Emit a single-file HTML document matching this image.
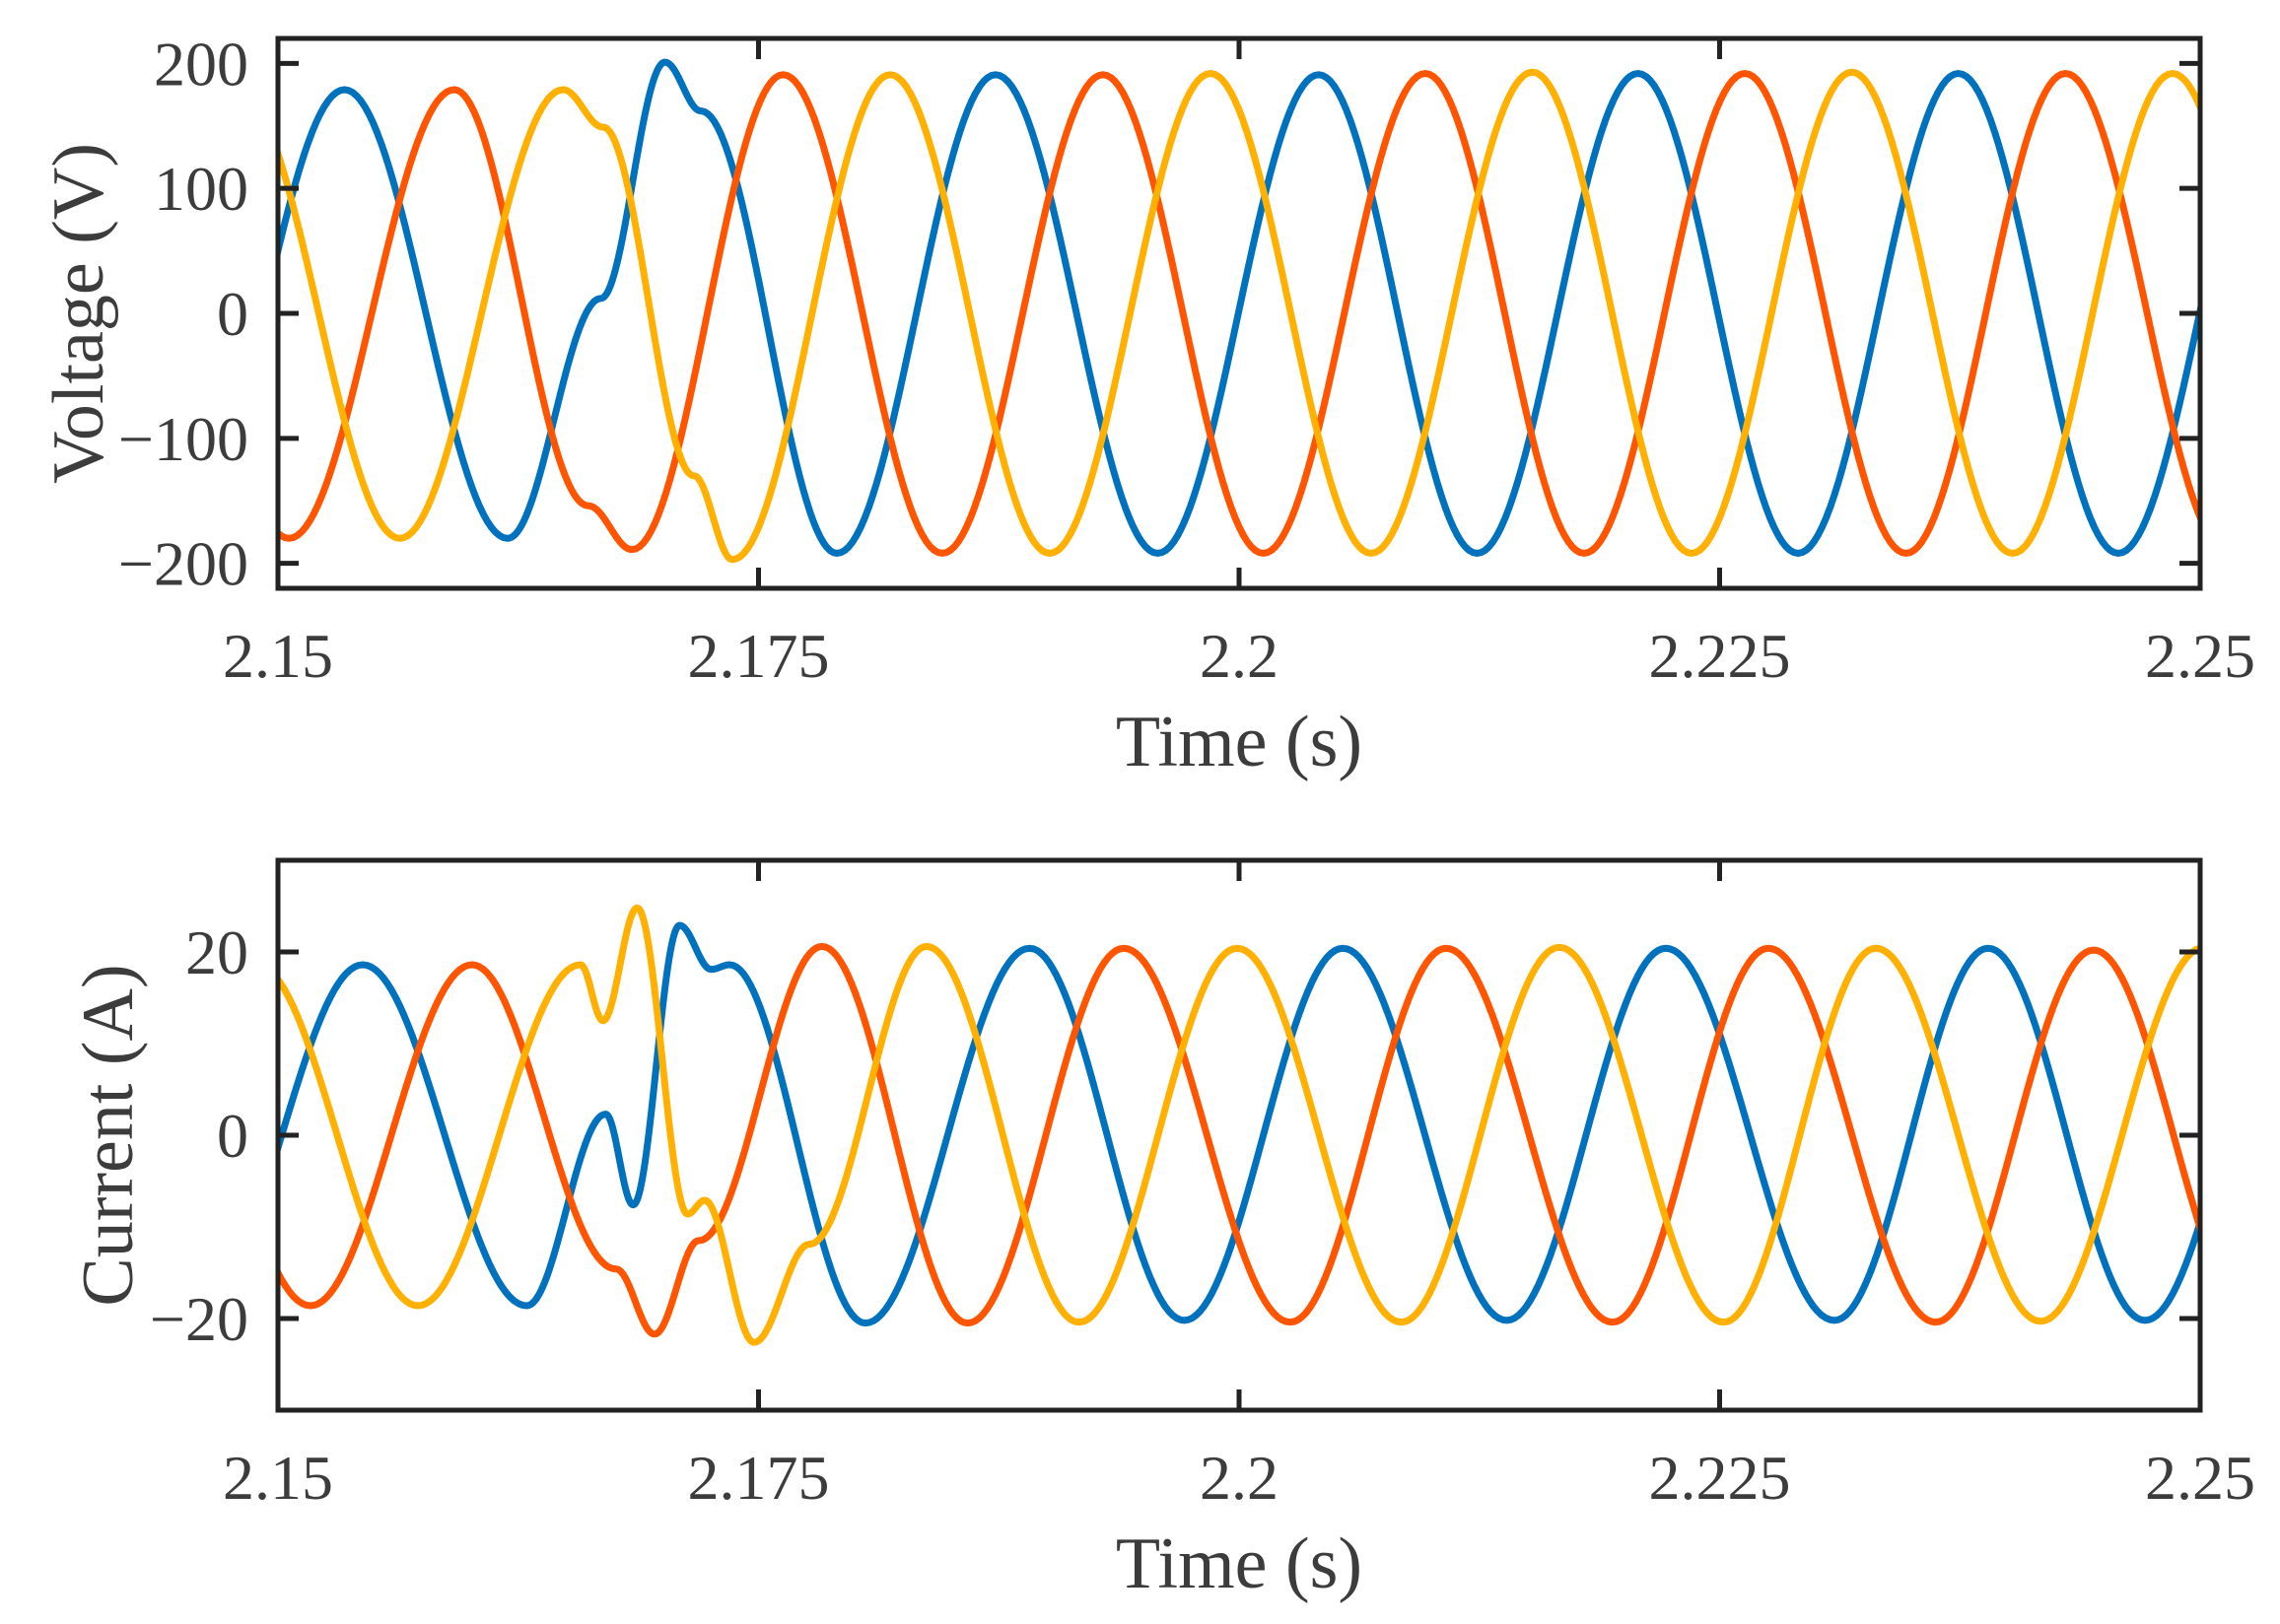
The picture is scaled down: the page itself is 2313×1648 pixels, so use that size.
<!DOCTYPE html>
<html><head><meta charset="utf-8"><style>
html,body{margin:0;padding:0;background:#fff;}
svg{display:block;}
text{font-family:"Liberation Serif",serif;fill:#3c3c3c;}
</style></head><body>
<svg id="chart" width="2313" height="1648" viewBox="0 0 2313 1648" xmlns="http://www.w3.org/2000/svg"></svg>
<script>
// ---- data (knots: extrema / shoulders) ----
const xTicks = [2.15, 2.175, 2.2, 2.225, 2.25];
const xTickLabels = ["2.15", "2.175", "2.2", "2.225", "2.25"];
const vTicks = [-200, -100, 0, 100, 200];
const vTickLabels = ["\u2212200", "\u2212100", "0", "100", "200"];
const iTicks = [-20, 0, 20];
const iTickLabels = ["\u221220", "0", "20"];

const vBlueT = [2.1450,2.15346,2.16195,2.1668,2.17013,2.1720,2.17908,2.18733,2.19577,2.20414,2.21238,2.22075,2.22908,2.23742,2.24574,2.2542];
const vBlueV = [-180,179,-180,12,201,162,-192,191,-192,191,-192,192,-192,192,-192,192];
const vOrangeT = [2.1421,2.15057,2.15917,2.16615,2.16842,2.17628,2.18456,2.19292,2.20126,2.20969,2.21795,2.22631,2.2347,2.24299,2.2515];
const vOrangeV = [180,-180,179,-154,-189,191,-192,191,-192,192,-192,192,-192,192,-192];
const vYellowT = [2.1479,2.15634,2.16483,2.16692,2.17164,2.17364,2.18185,2.19015,2.19851,2.20687,2.21526,2.22354,2.23188,2.24025,2.24856,2.2570];
const vYellowV = [180,-180,179,149,-130,-197,191,-192,192,-192,193,-192,193,-192,192,-192];

const iBlueT = [2.14598,2.15441,2.16294,2.16705,2.16848,2.17089,2.17254,2.1735,2.18056,2.1891,2.19715,2.2054,2.21392,2.2222,2.23097,2.23897,2.24713,2.2555];
const iBlueV = [-18.6,18.6,-18.6,2.3,-7.6,22.9,18.1,18.6,-20.5,20.4,-20.2,20.4,-20.2,20.4,-20.2,20.4,-20.2,20.4];
const iOrangeT = [2.14327,2.15169,2.1601,2.16759,2.16959,2.17189,2.1783,2.18588,2.194,2.20266,2.21077,2.21943,2.22754,2.23624,2.24446,2.2528];
const iOrangeV = [18.6,-18.6,18.6,-14.6,-21.7,-11.5,20.6,-20.5,20.4,-20.4,20.4,-20.4,20.4,-20.4,20.2,-20.4];
const iYellowT = [2.14888,2.15728,2.16574,2.16691,2.16869,2.17131,2.1722,2.17477,2.17764,2.18374,2.19167,2.1999,2.20844,2.21666,2.22521,2.23313,2.2417,2.2502];
const iYellowV = [18.6,-18.6,18.6,12.5,24.8,-8.6,-7.1,-22.6,-11.9,20.6,-20.4,20.4,-20.4,20.5,-20.4,20.4,-20.3,20.5];

const NS = "http://www.w3.org/2000/svg";
const svg = document.getElementById("chart");
function mk(tag, attrs, parent) {
  const e = document.createElementNS(NS, tag);
  for (const k in attrs) e.setAttribute(k, attrs[k]);
  (parent || svg).appendChild(e);
  return e;
}
const L = 282, R = 2232, X0 = 2.15, X1 = 2.25;
function xs(t) { return L + (t - X0) / (X1 - X0) * (R - L); }

function cosCurve(T, V, ys) {
  let d = "";
  for (let k = 0; k < T.length - 1; k++) {
    const n = 40;
    for (let j = (k === 0 ? 0 : 1); j <= n; j++) {
      const f = j / n;
      const t = T[k] + (T[k + 1] - T[k]) * f;
      const v = V[k] + (V[k + 1] - V[k]) * (1 - Math.cos(Math.PI * f)) / 2;
      d += (d ? "L" : "M") + xs(t).toFixed(2) + "," + ys(v).toFixed(2);
    }
  }
  return d;
}

function panel(cfg) {
  const { top, bot, ymax, ticks, labels, ylabel, ylabX, series, name } = cfg;
  const ys = v => (top + bot) / 2 - v / ymax * (bot - top) / 2;
  const g = mk("g", {});
  
  
  const cid = name + "-clip";
  const cp = mk("clipPath", { id: cid }, g);
  mk("rect", { x: L, y: top, width: R - L, height: bot - top }, cp);
  const sg = mk("g", { "clip-path": "url(#" + cid + ")" }, g);
  series.forEach(s => {
    const p = mk("path", { d: cosCurve(s.T, s.V, ys), fill: "none", stroke: s.c, "stroke-width": 7, "stroke-linejoin": "round" }, sg);
    
    
  });
  const box = mk("rect", { x: L, y: top, width: R - L, height: bot - top, fill: "none", stroke: "#222", "stroke-width": 5 }, g);
  
  
  ticks.forEach((v, i) => {
    const y = ys(v);
    mk("line", { x1: L, x2: L + 21, y1: y, y2: y, stroke: "#222", "stroke-width": 5 }, g);
    mk("line", { x1: R, x2: R - 21, y1: y, y2: y, stroke: "#222", "stroke-width": 5 }, g);
    const tx = mk("text", { x: L - 30, y: y + 22, "font-size": 64, "text-anchor": "end" }, g);
    tx.textContent = labels[i];
    
    
  });
  xTicks.forEach((t, i) => {
    const x = xs(t);
    mk("line", { x1: x, x2: x, y1: top, y2: top + 21, stroke: "#222", "stroke-width": 5 }, g);
    mk("line", { x1: x, x2: x, y1: bot, y2: bot - 21, stroke: "#222", "stroke-width": 5 }, g);
    const tx = mk("text", { x: x, y: bot + 90, "font-size": 64, "text-anchor": "middle" }, g);
    tx.textContent = xTickLabels[i];
    
    
  });
  const xl = mk("text", { x: (L + R) / 2, y: bot + 180, "font-size": 74, "text-anchor": "middle" }, g);
  xl.textContent = "Time (s)";
  
  
  const yc = (top + bot) / 2;
  const yl = mk("text", { x: ylabX, y: yc, "font-size": 74, "text-anchor": "middle", transform: "rotate(-90 " + ylabX + " " + yc + ")" }, g);
  yl.textContent = ylabel;
  
  
}

panel({ name: "voltage-panel", top: 39, bot: 597, ymax: 220, ticks: vTicks, labels: vTickLabels, ylabel: "Voltage (V)", ylabX: 104,
  series: [
    { T: vBlueT, V: vBlueV, c: "#0072BD", n: "voltage-phase-a" },
    { T: vOrangeT, V: vOrangeV, c: "#FF5500", n: "voltage-phase-b" },
    { T: vYellowT, V: vYellowV, c: "#FFB000", n: "voltage-phase-c" }
  ] });
panel({ name: "current-panel", top: 873, bot: 1431, ymax: 30, ticks: iTicks, labels: iTickLabels, ylabel: "Current (A)", ylabX: 134,
  series: [
    { T: iBlueT, V: iBlueV, c: "#0072BD", n: "current-phase-a" },
    { T: iOrangeT, V: iOrangeV, c: "#FF5500", n: "current-phase-b" },
    { T: iYellowT, V: iYellowV, c: "#FFB000", n: "current-phase-c" }
  ] });
</script>
</body></html>
